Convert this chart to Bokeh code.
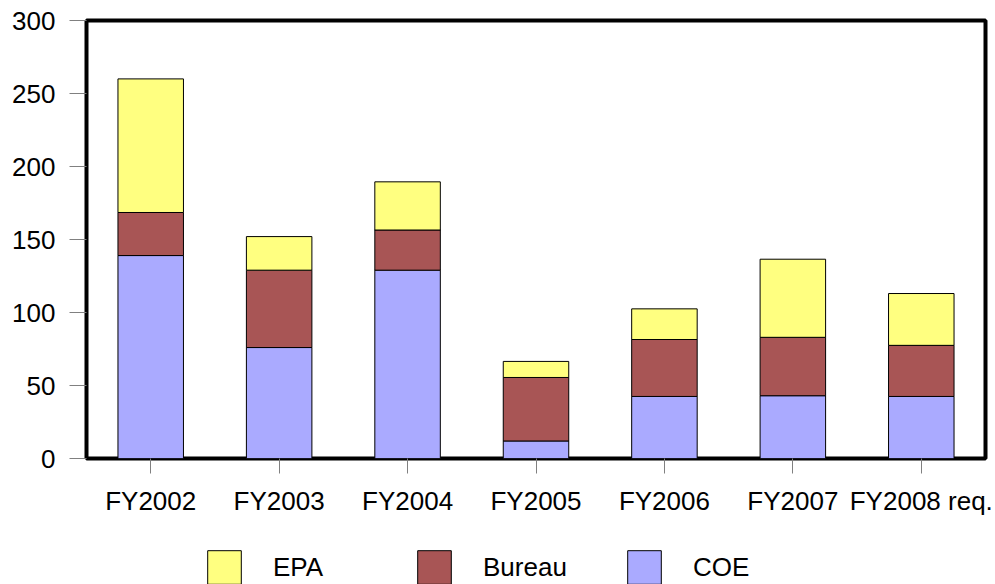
from bokeh.plotting import figure
from bokeh.layouts import column
from bokeh.models import ColumnDataSource, FactorRange, Range1d, Legend, LegendItem, FixedTicker
from bokeh.embed import file_html
from bokeh.resources import INLINE

years = ["FY2002", "FY2003", "FY2004", "FY2005", "FY2006", "FY2007", "FY2008 req."]
coe = [139, 76, 129, 12, 42.5, 43, 42.5]
bureau = [29.5, 53, 27.5, 43.5, 39, 40, 35]
epa = [91.5, 23, 33, 11, 21, 53.5, 35.5]
y_ticks = [0, 50, 100, 150, 200, 250, 300]

series = ["coe", "bureau", "epa"]
series_labels = ["COE", "Bureau", "EPA"]
colors = ["#AAAAFF", "#A85555", "#FFFF80"]

src = ColumnDataSource(dict(year=years, coe=coe, bureau=bureau, epa=epa))

FONT = "Liberation Sans"

# main chart
p = figure(x_range=FactorRange(*years, range_padding=0), y_range=Range1d(0, 300),
           width=995, height=530, output_backend="svg", toolbar_location=None,
           min_border_left=86, min_border_top=20, min_border_right=10, min_border_bottom=72)

p.vbar_stack(series, x="year", width=0.51, source=src, fill_color=colors,
             line_color="#000000", line_width=1)

p.outline_line_color = "black"
p.outline_line_width = 4
p.xgrid.visible = False
p.ygrid.visible = False
p.background_fill_color = "white"
p.border_fill_color = "white"

for ax in (p.xaxis[0], p.yaxis[0]):
    ax.axis_line_color = None
    ax.major_tick_line_color = "#808080"
    ax.major_tick_line_width = 1
    ax.major_tick_in = 0
    ax.minor_tick_line_color = None
    ax.major_label_text_font = FONT
    ax.major_label_text_font_size = "26px"
    ax.major_label_text_color = "black"

p.yaxis[0].ticker = FixedTicker(ticks=y_ticks)
p.yaxis[0].major_tick_out = 17
p.yaxis[0].major_label_standoff = 14
p.xaxis[0].major_tick_out = 15
p.xaxis[0].major_label_standoff = 12

# legend strip below the chart (its frame is aligned with the chart's frame)
lg = figure(x_range=FactorRange(*years), y_range=Range1d(0, 300),
            width=995, height=54, output_backend="svg", toolbar_location=None,
            x_axis_location=None, y_axis_location=None,
            min_border_left=0, min_border_right=0, min_border_top=0, min_border_bottom=0)
lg.outline_line_color = None
lg.xgrid.visible = False
lg.ygrid.visible = False
lg.border_fill_color = "white"
lg.background_fill_color = "white"

lrs = lg.vbar_stack(series, x="year", width=0.51, source=src, fill_color=colors,
                    line_color="#000000", line_width=1)
for r in lrs:
    r.visible = False

items = [LegendItem(label=series_labels[i], renderers=[lrs[i]]) for i in (2, 1, 0)]
legend = Legend(items=items, orientation="horizontal", location=(117, -4),
                glyph_width=42, glyph_height=42, label_standoff=28, label_width=110,
                spacing=30, padding=0, margin=0, border_line_color=None,
                background_fill_alpha=0, label_text_font=FONT, label_text_font_size="26px",
                label_text_color="black", click_policy="none")
lg.add_layout(legend)

layout = column(p, lg, spacing=0)
open("out.html", "w").write(file_html(layout, INLINE))
